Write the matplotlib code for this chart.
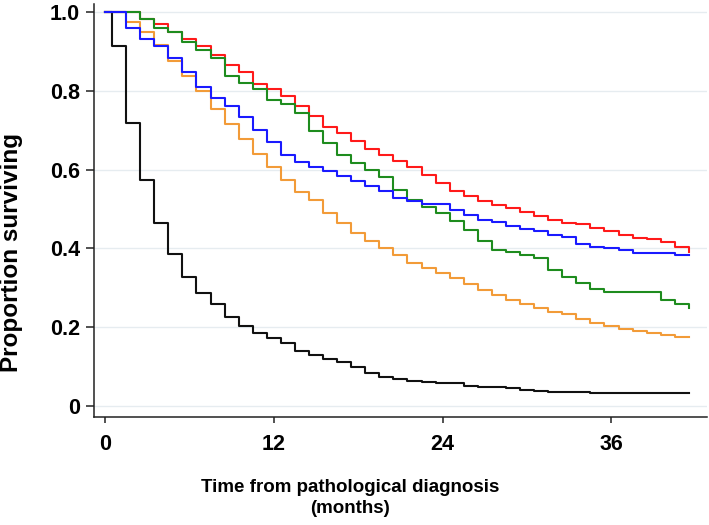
import numpy as np
import matplotlib
matplotlib.use('Agg')
import matplotlib.pyplot as plt

plt.rcParams['font.family'] = ['Liberation Sans', 'DejaVu Sans']
plt.rcParams['font.weight'] = 'bold'

# months: start + a step every month (at k + 0.5)
months = [0] + [k + 0.5 for k in range(42)]

red = [1.0, 1.0, 1.0, 0.983, 0.970, 0.951, 0.931, 0.913, 0.891, 0.866, 0.849,
       0.818, 0.804, 0.786, 0.762, 0.736, 0.709, 0.692, 0.672, 0.652, 0.636,
       0.623, 0.606, 0.586, 0.565, 0.547, 0.532, 0.521, 0.509, 0.502, 0.493,
       0.481, 0.471, 0.465, 0.462, 0.451, 0.444, 0.434, 0.427, 0.423, 0.415,
       0.404, 0.392]
blue = [1.0, 1.0, 0.959, 0.931, 0.913, 0.883, 0.847, 0.809, 0.781, 0.762, 0.733,
        0.701, 0.669, 0.638, 0.619, 0.608, 0.597, 0.583, 0.572, 0.559, 0.547,
        0.527, 0.521, 0.512, 0.512, 0.498, 0.485, 0.471, 0.466, 0.456, 0.449,
        0.445, 0.434, 0.430, 0.411, 0.404, 0.402, 0.396, 0.389, 0.389, 0.389,
        0.384, 0.384]
green = [1.0, 1.0, 1.0, 0.983, 0.959, 0.949, 0.925, 0.904, 0.883, 0.838, 0.820,
         0.804, 0.777, 0.767, 0.745, 0.699, 0.667, 0.637, 0.618, 0.599, 0.581,
         0.548, 0.523, 0.505, 0.489, 0.470, 0.446, 0.419, 0.397, 0.390, 0.383,
         0.375, 0.346, 0.328, 0.312, 0.296, 0.288, 0.288, 0.288, 0.288, 0.269,
         0.258, 0.248]
orange = [1.0, 1.0, 0.976, 0.949, 0.917, 0.877, 0.838, 0.801, 0.753, 0.716, 0.677,
          0.640, 0.608, 0.574, 0.544, 0.523, 0.490, 0.465, 0.440, 0.419, 0.400,
          0.382, 0.362, 0.349, 0.338, 0.324, 0.310, 0.294, 0.282, 0.269, 0.259,
          0.248, 0.238, 0.233, 0.221, 0.211, 0.202, 0.196, 0.191, 0.185, 0.180,
          0.176, 0.176]
black = [1.0, 0.915, 0.718, 0.574, 0.464, 0.385, 0.328, 0.286, 0.259, 0.226, 0.202,
         0.186, 0.173, 0.159, 0.139, 0.128, 0.118, 0.110, 0.098, 0.084, 0.072,
         0.068, 0.063, 0.060, 0.057, 0.057, 0.051, 0.049, 0.047, 0.044, 0.040,
         0.038, 0.034, 0.034, 0.034, 0.032, 0.032, 0.032, 0.032, 0.032, 0.032,
         0.032, 0.032]

series = [(black, '#111111'), (orange, '#f29b38'), (red, '#ff1a1a'),
          (green, '#1e8c1e'), (blue, '#1a1aff')]

xticks = [0, 12, 24, 36]
yticks = [0, 0.2, 0.4, 0.6, 0.8, 1.0]
ylabels = ['0', '0.2', '0.4', '0.6', '0.8', '1.0']

fig = plt.figure(figsize=(7.09, 5.25), dpi=100)
ax = fig.add_axes([0.1326, 0.2057, 0.8646, 0.786])

for vals, col in series:
    ax.step(months, vals, where='post', color=col, lw=1.5)

ax.set_xlim(-0.78, 42.79)
ax.set_ylim(-0.0285, 1.020)
ax.set_xticks(xticks)
ax.set_yticks(yticks)
ax.set_yticklabels(ylabels)

for y in yticks:
    ax.axhline(y, color='#e6ecf0', lw=1, zorder=0)

for s in ['top', 'right']:
    ax.spines[s].set_visible(False)
for s in ['left', 'bottom']:
    ax.spines[s].set_linewidth(1.1)
    ax.spines[s].set_color('#222222')

ax.tick_params(axis='y', length=5.8, width=1.1, pad=4.3, labelsize=15.5, color='#222222')
ax.tick_params(axis='x', length=4.3, width=1.1, pad=8, labelsize=15.5, color='#222222')
for lab in ax.get_xticklabels() + ax.get_yticklabels():
    lab.set_fontweight('bold')

ax.set_xlabel('Time from pathological diagnosis\n(months)', fontsize=13.5,
              fontweight='bold', linespacing=1.3)
ax.xaxis.set_label_coords(0.4176, -0.150)
ax.set_ylabel('Proportion surviving', fontsize=17.5, fontweight='bold', va='center')
ax.yaxis.set_label_coords(-0.134, 0.399)

fig.savefig('out.png', dpi=100)
